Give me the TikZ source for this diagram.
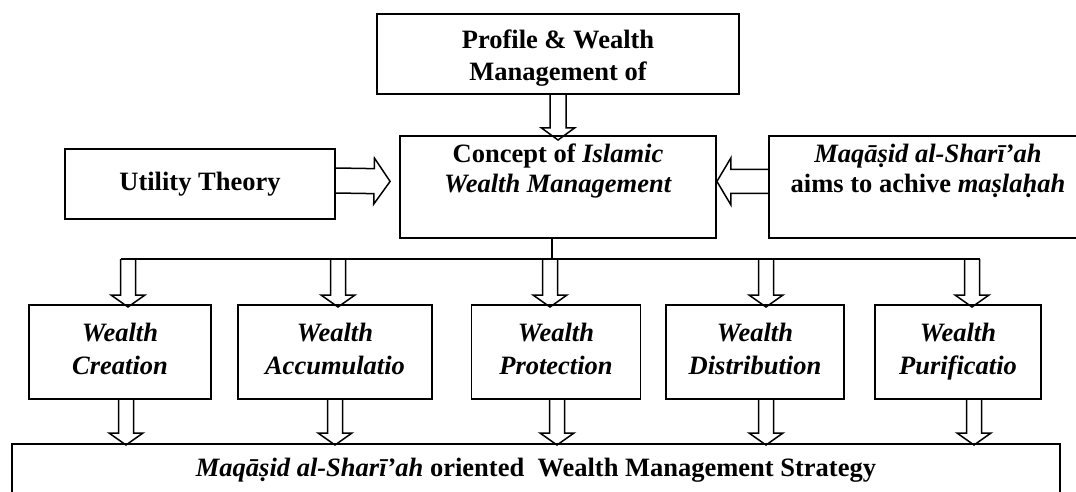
\documentclass[tikz,border=0pt]{standalone}
\usepackage{fontspec}
\setmainfont{Liberation Serif}
\usepackage{tikz}
\usetikzlibrary{calc}

\newcommand{\fatarrow}[5]{%
  \coordinate (fa) at (#1);
  \coordinate (fb) at (#2);
  \coordinate (hb) at ($(fb)!#5!(fa)$);
  \draw[fat] ($(fa)!#3!90:(fb)$) -- ($(hb)!#3!90:(fb)$) -- ($(hb)!#4!90:(fb)$) -- (fb)
    -- ($(hb)!#4!-90:(fb)$) -- ($(hb)!#3!-90:(fb)$) -- ($(fa)!#3!-90:(fb)$);
}

\begin{document}
\begin{tikzpicture}[x=1pt, y=-1pt,
  box/.style={draw, line width=1.8pt, inner sep=0pt, align=center,
    font=\fontsize{26.5}{30}\selectfont\bfseries},
  wbox/.style={box, font=\fontsize{26.5}{33}\selectfont\bfseries\itshape,
    text height=70pt, text depth=24pt},
  fat/.style={line width=1.5pt}]
  \useasboundingbox (0,0) rectangle (1076,492);

  \node[box, anchor=north, minimum width=362pt, text height=67pt, text depth=13pt,
    font=\fontsize{26.5}{32}\selectfont\bfseries] (prof) at (558,13) {Profile \& Wealth\\Management of};
  \node[box, minimum width=270pt, minimum height=70pt] (util) at (200,184) {Utility Theory};
  \node[box, anchor=north, minimum width=316pt, text height=57pt, text depth=45pt] (conc) at (558,135) {Concept of \textit{Islamic}\\\textit{Wealth Management}};
  \node[box, anchor=north, minimum width=318pt, text height=57pt, text depth=45pt] (maq) at (928,135) {\textit{Maqāṣid al-Sharī’ah}\\aims to achive \textit{maṣlaḥah}};

  \node[wbox, anchor=north, minimum width=182pt] (creat) at (120,304) {Wealth\\Creation};
  \node[wbox, anchor=north, minimum width=194pt] (accum) at (335,304) {Wealth\\Accumulatio};
  \node[wbox, anchor=north, minimum width=169pt] (prot) at (556,304) {Wealth\\Protection};
  \node[wbox, anchor=north, minimum width=178pt] (distr) at (755,304) {Wealth\\Distribution};
  \node[wbox, anchor=north, minimum width=166pt] (purif) at (958,304) {Wealth\\Purificatio};

  \node[box, anchor=north, minimum width=1048pt, text height=33pt, text depth=40pt] (strat) at (536,443) {\textit{Maqāṣid al-Sharī’ah} oriented~ Wealth Management Strategy};

  \fatarrow{prof.south}{$(prof.south |- conc.north)+(0,5)$}{8pt}{16.5pt}{12pt}
  \fatarrow{$(util.east)+(0,-3.5)$}{$(conc.west)+(-9,-5.5)$}{12.5pt}{23pt}{16pt}
  \fatarrow{$(maq.west)+(0,-5.5)$}{$(conc.east)+(0,-5.5)$}{12pt}{23.5pt}{14pt}

  \coordinate (split) at (552,259);
  \coordinate (d1) at (128,259);
  \coordinate (d2) at (338,259);
  \coordinate (d3) at (550,259);
  \coordinate (d4) at (766,259);
  \coordinate (d5) at (972,259);
  \draw[fat] (split |- conc.south) -- (split);
  \draw[fat] ($(d1)+(-7.5,0)$) -- ($(d5)+(7.5,0)$);

  \fatarrow{d1}{$(d1 |- creat.north)+(0,3)$}{7.5pt}{17pt}{12pt}
  \fatarrow{d2}{$(d2 |- accum.north)+(0,3)$}{7.5pt}{17pt}{12pt}
  \fatarrow{d3}{$(d3 |- prot.north)+(0,3)$}{7.5pt}{17pt}{12pt}
  \fatarrow{d4}{$(d4 |- distr.north)+(0,3)$}{7.5pt}{17pt}{12pt}
  \fatarrow{d5}{$(d5 |- purif.north)+(0,3)$}{7.5pt}{17pt}{12pt}

  \fatarrow{$(creat.south)+(6,0)$}{$(creat.south |- strat.north)+(6,2)$}{7.5pt}{17pt}{12pt}
  \fatarrow{accum.south}{$(accum.south |- strat.north)+(0,2)$}{7.5pt}{17pt}{12pt}
  \fatarrow{$(prot.south)+(1,0)$}{$(prot.south |- strat.north)+(1,2)$}{7.5pt}{17pt}{12pt}
  \fatarrow{$(distr.south)+(11,0)$}{$(distr.south |- strat.north)+(11,2)$}{7.5pt}{17pt}{12pt}
  \fatarrow{$(purif.south)+(16,0)$}{$(purif.south |- strat.north)+(16,2)$}{7.5pt}{17pt}{12pt}
\end{tikzpicture}
\end{document}
